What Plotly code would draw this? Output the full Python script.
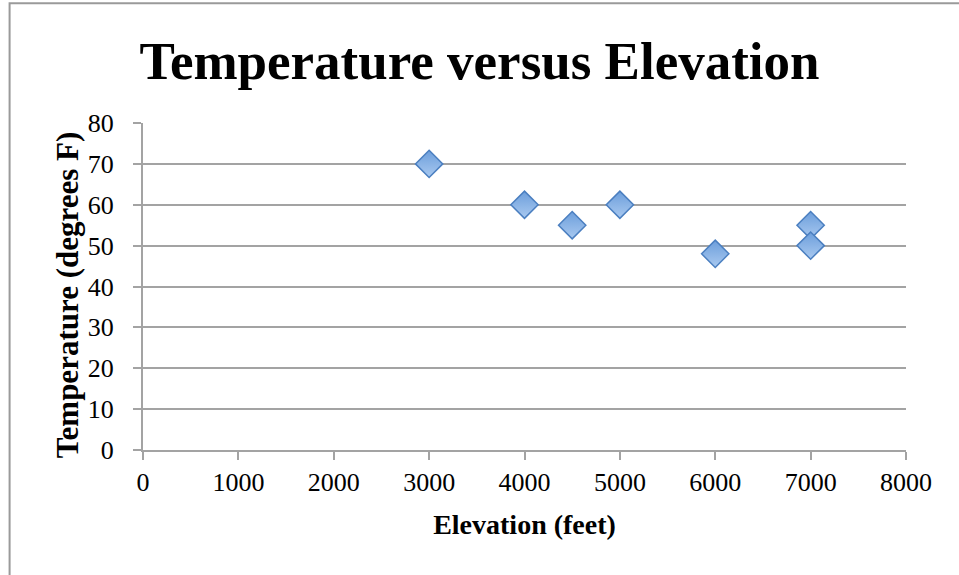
import plotly.graph_objects as go

# Field readings: elevation (feet) and temperature (degrees F)
elevation_ft = [3000, 4000, 4500, 5000, 6000, 7000, 7000]
temperature_f = [70, 60, 55, 60, 48, 55, 50]

x_ticks = [0, 1000, 2000, 3000, 4000, 5000, 6000, 7000, 8000]
y_ticks = [0, 10, 20, 30, 40, 50, 60, 70, 80]

W, H = 959, 575
L, R, T, B = 142.5, 53, 123, 124.5

GRID = "#a3a3a3"
SERIF = "Liberation Serif"

fig = go.Figure()
fig.add_trace(go.Scatter(
    x=elevation_ft,
    y=temperature_f,
    mode="markers",
    marker=dict(
        symbol="diamond",
        size=21,
        color="#6c9edb",
        line=dict(color="#4b7fc0", width=1.5),
        gradient=dict(type="vertical", color="#a9c9f0"),
    ),
    hoverinfo="x+y",
    showlegend=False,
))

# outer chart frame (runs off the right and bottom edges)
pw = W - L - R
ph = H - T - B
fig.add_shape(
    type="rect", xref="paper", yref="paper",
    x0=(9 - L) / pw, x1=(W + 20 - L) / pw,
    y0=(H - 3 - B) / ph, y1=-(B + 20) / ph,
    line=dict(color="#9a9a9a", width=2), fillcolor="rgba(0,0,0,0)",
    layer="below",
)

# vertical axis title, placed in pixel terms relative to the plot area
fig.add_annotation(
    text="<b>Temperature (degrees F)</b>",
    textangle=-90,
    xref="paper", yref="paper",
    x=(67 - L) / pw, y=(H - 295 - B) / ph,
    xanchor="center", yanchor="middle",
    showarrow=False,
    font=dict(family=SERIF, size=31, color="black"),
)

fig.update_layout(
    width=W, height=H,
    margin=dict(l=L, r=R, t=T, b=B),
    paper_bgcolor="white",
    plot_bgcolor="white",
    title=dict(
        text="<b>Temperature versus Elevation</b>",
        x=0.5, xref="container", xanchor="center",
        y=1 - 60 / H, yref="container", yanchor="middle",
        font=dict(family=SERIF, size=53, color="black"),
    ),
    font=dict(family=SERIF, color="black"),
)

fig.update_xaxes(
    range=[0, 8000], tickvals=x_ticks, ticktext=[str(v) for v in x_ticks],
    showgrid=False, zeroline=False,
    showline=True, linecolor=GRID, linewidth=2,
    ticks="outside", ticklen=8, tickwidth=2, tickcolor=GRID,
    tickfont=dict(family=SERIF, size=26, color="black"),
    ticklabelstandoff=0,
    title=dict(text="<b>Elevation (feet)</b>",
               font=dict(family=SERIF, size=28, color="black"), standoff=18),
)
fig.update_yaxes(
    range=[0, 80], tickvals=y_ticks, ticktext=[str(v) for v in y_ticks],
    showgrid=True, gridcolor=GRID, gridwidth=1.5,
    zeroline=False,
    showline=True, linecolor=GRID, linewidth=2,
    ticks="outside", ticklen=8, tickwidth=2, tickcolor=GRID,
    tickfont=dict(family=SERIF, size=26, color="black"),
    ticklabelstandoff=14,
)

fig.write_html("out.html")
